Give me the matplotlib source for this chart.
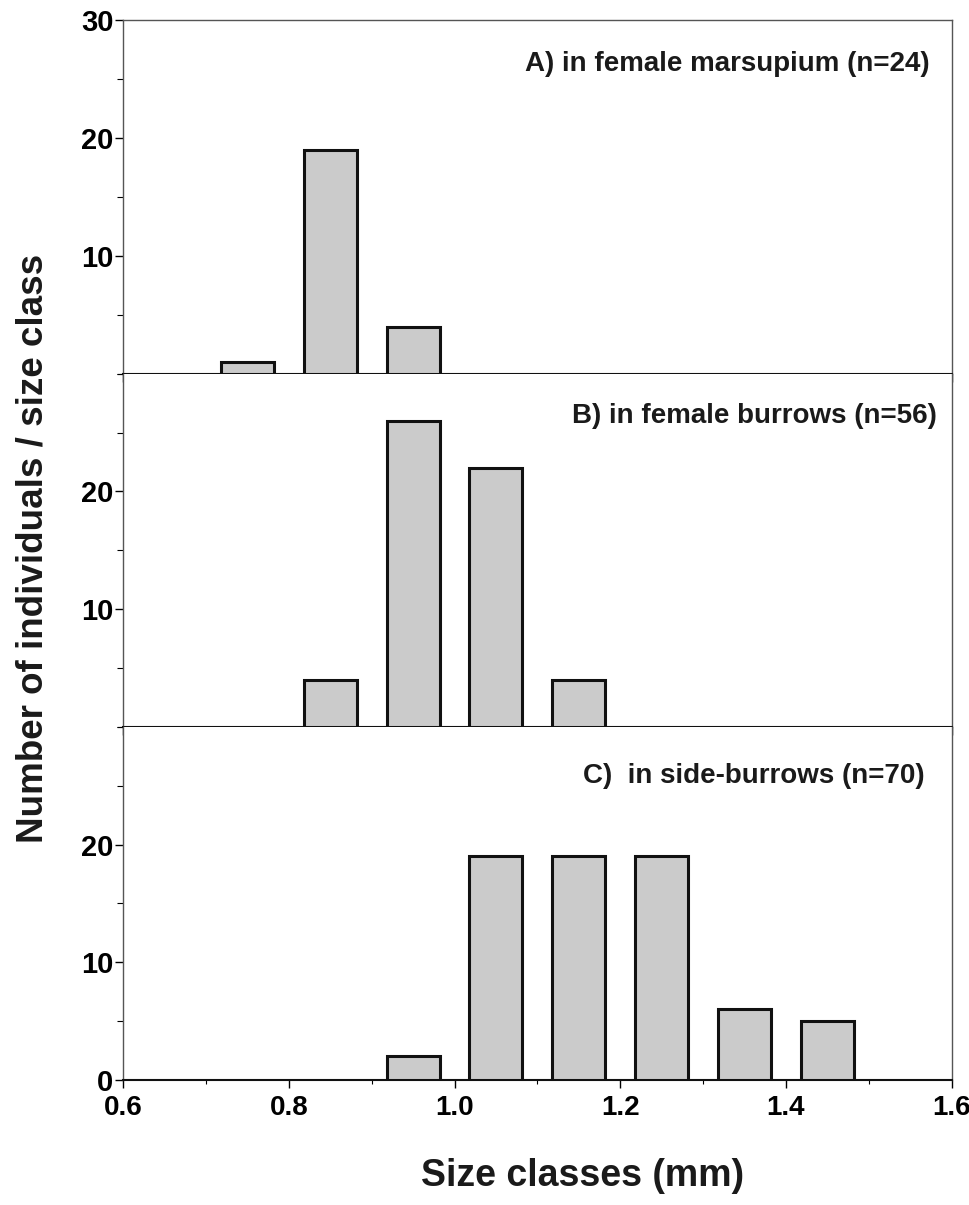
import numpy as np
import matplotlib.pyplot as plt
from matplotlib.ticker import MultipleLocator

plt.rcParams['font.family'] = ['Liberation Sans', 'DejaVu Sans']
plt.rcParams['font.weight'] = 'bold'

# size class centres (mm) and counts per panel
centres_a = [0.75, 0.85, 0.95]
counts_a = [1, 19, 4]
centres_b = [0.85, 0.95, 1.05, 1.15]
counts_b = [4, 26, 22, 4]
centres_c = [0.95, 1.05, 1.15, 1.25, 1.35, 1.45]
counts_c = [2, 19, 19, 19, 6, 5]

titles = ['A) in female marsupium (n=24)',
          'B) in female burrows (n=56)',
          'C)  in side-burrows (n=70)']
ylabels = [[10, 20, 30], [10, 20], [0, 10, 20]]

fig, axes = plt.subplots(3, 1, figsize=(9.7, 12.05), dpi=100, sharex=True)
fig.subplots_adjust(left=0.127, right=0.981, top=0.983, bottom=0.1037, hspace=0)

# title placement inside each panel (axes fraction)
title_x = [0.973, 0.982, 0.967]
title_y = [0.858, 0.859, 0.841]

panels = [(centres_a, counts_a), (centres_b, counts_b), (centres_c, counts_c)]
for i, (ax, (xc, yc)) in enumerate(zip(axes, panels)):
    ax.bar(xc, yc, width=0.064, color='#cbcbcb', edgecolor='#111111', linewidth=2.2, zorder=3)
    ax.set_xlim(0.6, 1.6)
    ax.set_ylim(0, 30)
    ax.xaxis.set_major_locator(MultipleLocator(0.2))
    ax.xaxis.set_minor_locator(MultipleLocator(0.1))
    ax.set_yticks(ylabels[i])
    ax.yaxis.set_minor_locator(MultipleLocator(5))
    ax.tick_params(axis='y', which='major', length=6, width=1, labelsize=21, pad=1)
    ax.tick_params(axis='y', which='minor', length=4, width=0.8)
    ax.tick_params(axis='x', which='major', length=6, width=1, labelsize=20, pad=5)
    ax.tick_params(axis='x', which='minor', length=3, width=0.8)
    for s in ['left', 'right', 'top']:
        ax.spines[s].set_color('#555555')
        ax.spines[s].set_linewidth(1)
    ax.spines['bottom'].set_color('#111111')
    ax.spines['bottom'].set_linewidth(1.5)
    if i > 0:
        ax.spines['top'].set_visible(False)
    ax.text(title_x[i], title_y[i], titles[i], transform=ax.transAxes,
            ha='right', va='baseline', fontsize=20, fontweight='bold', color='#1a1a1a')

axes[2].xaxis.set_major_formatter(plt.FuncFormatter(lambda v, p: f'{v:.1f}'))

fig.text(0.034, 0.545, 'Number of individuals / size class', rotation=90,
         ha='center', va='center', fontsize=26.5, fontweight='bold', color='#1a1a1a')
fig.text(0.601, 0.016, 'Size classes (mm)', ha='center', va='baseline',
         fontsize=27, fontweight='bold', color='#1a1a1a')

fig.savefig('out.png', dpi=100)
